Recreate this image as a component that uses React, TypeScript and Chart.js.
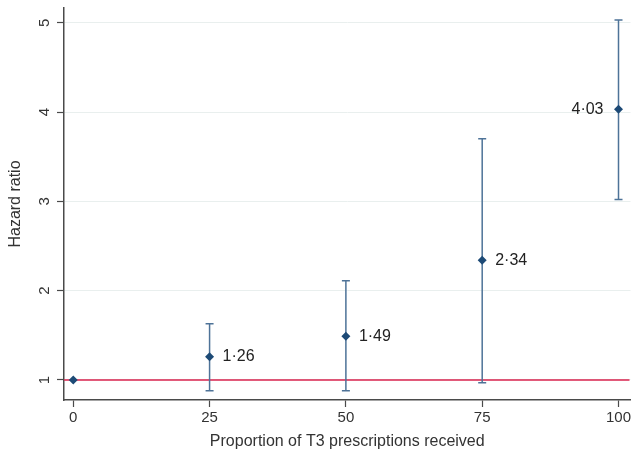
import React, { useEffect, useRef } from "react";
import { Chart, registerables } from "chart.js";

Chart.register(...registerables);

const proportions = [0, 25, 50, 75, 100];
const hazardRatios = [1, 1.26, 1.49, 2.34, 4.03];
const ciLower = [1, 0.88, 0.88, 0.97, 3.02];
const ciUpper = [1, 1.63, 2.11, 3.7, 5.03];
const valueLabels = ["", "1·26", "1·49", "2·34", "4·03"];
const xTickValues = [0, 25, 50, 75, 100];
const yTickValues = [1, 2, 3, 4, 5];
const referenceValue = 1;

const FONT = "'Liberation Sans', Arial, sans-serif";
const TEXT = "#333333";
const AXIS = "#4a4a4a";
const BAR = "#4e7398";
const MARK = "#1d4a76";
const RED = "#d9234e";

const refLinePlugin = {
  id: "refLine",
  beforeDatasetsDraw(chart: any) {
    const { ctx, chartArea, scales } = chart;
    const y = scales.y.getPixelForValue(referenceValue);
    ctx.save();
    ctx.strokeStyle = RED;
    ctx.lineWidth = 1.5;
    ctx.beginPath();
    ctx.moveTo(chartArea.left, y);
    ctx.lineTo(chartArea.right - 1, y);
    ctx.stroke();
    ctx.restore();
  },
};

const errorBarPlugin = {
  id: "errorBars",
  beforeDatasetsDraw(chart: any) {
    const { ctx, scales } = chart;
    ctx.save();
    ctx.strokeStyle = BAR;
    ctx.lineWidth = 1.5;
    proportions.forEach((p, i) => {
      if (ciLower[i] === ciUpper[i]) return;
      const x = scales.x.getPixelForValue(p);
      const yl = scales.y.getPixelForValue(ciLower[i]);
      const yu = scales.y.getPixelForValue(ciUpper[i]);
      const cap = 4;
      ctx.beginPath();
      ctx.moveTo(x, yl);
      ctx.lineTo(x, yu);
      ctx.moveTo(x - cap, yl);
      ctx.lineTo(x + cap, yl);
      ctx.moveTo(x - cap, yu);
      ctx.lineTo(x + cap, yu);
      ctx.stroke();
    });
    ctx.restore();
  },
};

const valueLabelPlugin = {
  id: "valueLabels",
  afterDatasetsDraw(chart: any) {
    const { ctx, scales } = chart;
    ctx.save();
    ctx.font = `16px ${FONT}`;
    ctx.fillStyle = "#222222";
    ctx.textBaseline = "middle";
    proportions.forEach((p, i) => {
      const label = valueLabels[i];
      if (!label) return;
      const x = scales.x.getPixelForValue(p);
      const y = scales.y.getPixelForValue(hazardRatios[i]);
      if (i === proportions.length - 1) {
        ctx.textAlign = "right";
        ctx.fillText(label, x - 15, y);
      } else {
        ctx.textAlign = "left";
        ctx.fillText(label, x + 13, y);
      }
    });
    ctx.restore();
  },
};

export default function App() {
  const canvasRef = useRef<HTMLCanvasElement | null>(null);

  useEffect(() => {
    if (!canvasRef.current) return;
    const chart = new Chart(canvasRef.current, {
      type: "scatter",
      data: {
        datasets: [
          {
            label: "Hazard ratio",
            data: proportions.map((p, i) => ({ x: p, y: hazardRatios[i] })),
            pointStyle: "rectRot",
            pointRadius: 4.5,
            pointHoverRadius: 4.5,
            backgroundColor: MARK,
            borderColor: MARK,
            borderWidth: 0,
          },
        ],
      },
      options: {
        animation: false,
        responsive: true,
        maintainAspectRatio: false,
        layout: { padding: { top: 8, right: 3, left: 0, bottom: 0 } },
        plugins: {
          legend: { display: false },
          tooltip: { enabled: false },
        },
        scales: {
          x: {
            type: "linear",
            min: -1.7,
            max: 102.2,
            afterBuildTicks: (s: any) => {
              s.ticks = xTickValues.map((v) => ({ value: v }));
            },
            afterFit: (s: any) => {
              s.height = 51;
              s.paddingLeft = 0;
              s.paddingRight = 0;
            },
            grid: {
              drawOnChartArea: false,
              tickLength: 7,
              tickColor: AXIS,
              tickWidth: 1.2,
            },
            border: { display: true, color: AXIS, width: 1.5 },
            ticks: {
              font: { family: FONT, size: 15 },
              color: TEXT,
              padding: 2,
              maxRotation: 0,
              minRotation: 0,
            },
            title: {
              display: true,
              text: "Proportion of T3 prescriptions received",
              font: { family: FONT, size: 16 },
              color: TEXT,
              padding: { top: 0, bottom: 0 },
            },
          },
          y: {
            type: "linear",
            min: 0.776,
            max: 5.165,
            afterBuildTicks: (s: any) => {
              s.ticks = yTickValues.map((v) => ({ value: v }));
            },
            afterFit: (s: any) => {
              s.width = 64;
              s.paddingTop = 0;
              s.paddingBottom = 0;
            },
            grid: {
              color: "#e9efee",
              lineWidth: 1,
              tickLength: 7,
              tickColor: AXIS,
              tickWidth: 1.2,
            },
            border: { display: true, color: AXIS, width: 1.5 },
            ticks: {
              font: { family: FONT, size: 15 },
              color: TEXT,
              padding: 8,
              minRotation: 90,
              maxRotation: 90,
              crossAlign: "center",
            },
            title: {
              display: true,
              text: "Hazard ratio",
              font: { family: FONT, size: 16 },
              color: TEXT,
              padding: { top: 6, bottom: 0 },
            },
          },
        },
      },
      plugins: [refLinePlugin, errorBarPlugin, valueLabelPlugin],
    });
    return () => chart.destroy();
  }, []);

  return (
    <div style={{ position: "absolute", left: 0, top: 0, width: 635, height: 451, background: "#ffffff" }}>
      <canvas ref={canvasRef} />
    </div>
  );
}
